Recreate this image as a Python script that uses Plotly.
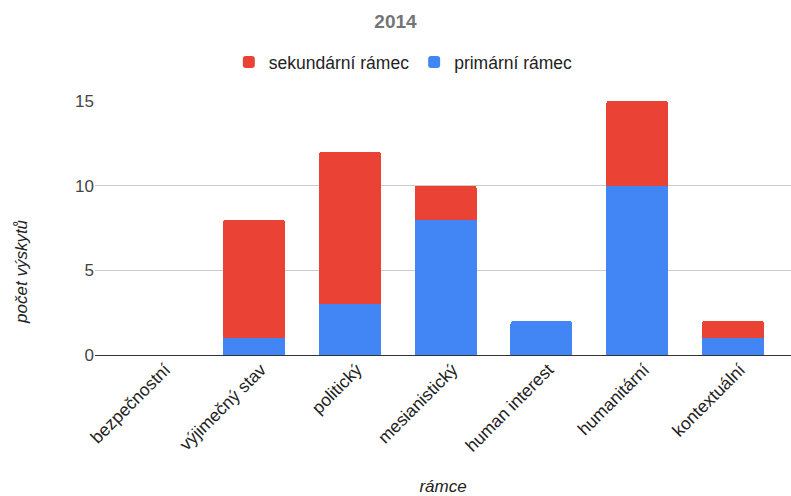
import plotly.graph_objects as go

categories = ["bezpečnostní", "výjimečný stav", "politický", "mesianistický",
              "human interest", "humanitární", "kontextuální"]
primarni = [0, 1, 3, 8, 2, 10, 1]
sekundarni = [0, 7, 9, 2, 0, 5, 1]
y_ticks = [0, 5, 10, 15]

FONT = "Arial, 'Liberation Sans', sans-serif"

fig = go.Figure()
fig.add_trace(go.Bar(x=categories, y=primarni, name="primární rámec",
                     marker=dict(color="#4285F4", line=dict(width=0)), width=0.647))
fig.add_trace(go.Bar(x=categories, y=sekundarni, name="sekundární rámec",
                     marker=dict(color="#EA4335", line=dict(width=0)), width=0.647))

fig.update_layout(
    width=791, height=496,
    barmode="stack",
    barcornerradius=3,
    plot_bgcolor="white", paper_bgcolor="white",
    margin=dict(l=95, r=0, t=101, b=141),
    font=dict(family=FONT, size=16, color="#222222"),
    title=dict(text="<b>2014</b>", x=0.5, xanchor="center", y=0.956, yanchor="middle",
               font=dict(family=FONT, size=19, color="#757575")),
    legend=dict(orientation="h", x=0.443, xanchor="center", y=1.153, yanchor="middle",
                traceorder="reversed", font=dict(family=FONT, size=17.5, color="#222222"),
                itemwidth=30),
    xaxis=dict(range=[-0.66, 6.605], tickangle=-45, showgrid=False, automargin=False,
               ticks="", ticklabelshift=7, tickfont=dict(size=17.5, color="#222222"),
               title=dict(text="<i>rámce</i>", font=dict(size=17, color="#222222"), standoff=30)),
    yaxis=dict(range=[0, 15], tickvals=y_ticks, showgrid=True, gridcolor="#cccccc",
               gridwidth=1, zeroline=True, zerolinecolor="#333333", zerolinewidth=1,
               ticks="", automargin=False, tickfont=dict(size=17, color="#444444")),
    annotations=[dict(text="<i>počet výskytů</i>", xref="paper", yref="paper",
                      x=-0.1049, y=0.331, xanchor="center", yanchor="middle",
                      textangle=-90, showarrow=False,
                      font=dict(family=FONT, size=17, color="#222222"))],
)

fig.write_html("out.html")
